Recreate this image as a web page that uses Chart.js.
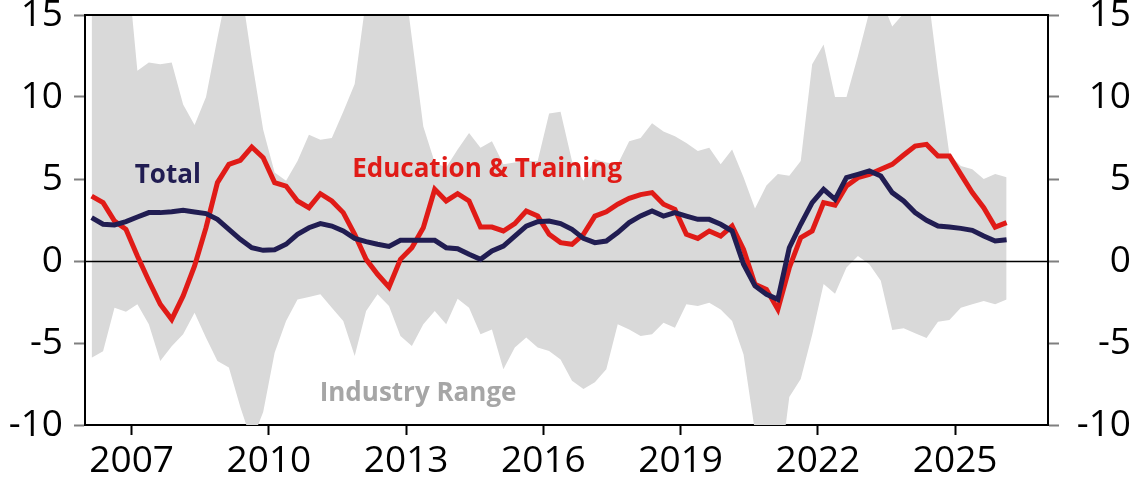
<!DOCTYPE html>
<html lang="en">
<head>
<meta charset="UTF-8">
<title>Employment growth: Education &amp; Training vs Total</title>
<style>
  html, body { margin: 0; padding: 0; background: #fff; }
</style>
</head>
<body>
<canvas id="chart" width="1137" height="484"></canvas>

<script src="https://cdn.jsdelivr.net/npm/chart.js"></script>
<script>
  // quarterly series, 2006 Q1 .. 2026 Q1 (annual % change)
  const firstYear = 2006;
  const totalGrowth = [2.64, 2.24, 2.2, 2.4, 2.68, 2.95, 2.95, 3.0, 3.09, 2.99, 2.89, 2.54, 1.93, 1.32, 0.81, 0.65,
    0.68, 1.02, 1.63, 2.03, 2.28, 2.13, 1.83, 1.38, 1.18, 1.02, 0.89, 1.26, 1.26, 1.26, 1.26, 0.81,
    0.75, 0.41, 0.1, 0.61, 0.91, 1.52, 2.13, 2.4, 2.44, 2.28, 1.93, 1.38, 1.12, 1.22, 1.73, 2.34,
    2.75, 3.05, 2.74, 2.95, 2.74, 2.54, 2.54, 2.24, 1.83, -0.2, -1.52, -2.03, -2.34, 0.81, 2.24, 3.56,
    4.37, 3.76, 5.08, 5.28, 5.49, 5.18, 4.17, 3.66, 2.95, 2.48, 2.13, 2.07, 1.99, 1.87, 1.52, 1.22, 1.3];
  const eduGrowth = [3.96, 3.56, 2.44, 1.93, 0.3, -1.2, -2.64, -3.56, -2.13, -0.3, 2.03, 4.78, 5.89, 6.14, 6.95, 6.3,
    4.78, 4.57, 3.66, 3.25, 4.1, 3.66, 2.95, 1.63, 0.1, -0.81, -1.59, 0.1, 0.81, 2.03, 4.37, 3.66,
    4.1, 3.66, 2.07, 2.07, 1.83, 2.28, 3.05, 2.74, 1.63, 1.12, 1.02, 1.63, 2.74, 3.0, 3.46, 3.82,
    4.05, 4.17, 3.46, 3.15, 1.63, 1.38, 1.83, 1.52, 2.13, 0.71, -1.42, -1.73, -2.95, -0.41, 1.42, 1.83,
    3.56, 3.41, 4.57, 5.08, 5.28, 5.59, 5.89, 6.46, 7.01, 7.11, 6.4, 6.4, 5.28, 4.17, 3.25, 2.07, 2.34];
  const rangeHigh = [17, 18, 18, 19, 11.6, 12.1, 12.0, 12.1, 9.55, 8.3, 10.0, 13.6, 17, 17, 12.3, 8.0,
    5.4, 4.9, 6.1, 7.7, 7.4, 7.5, 9.1, 10.8, 16, 18, 19, 19, 13.6, 8.2, 6.0, 5.7,
    6.8, 7.8, 6.9, 7.3, 5.9, 6.0, 6.1, 6.1, 9.0, 9.1, 6.1, 4.9, 6.2, 6.0, 5.9, 7.3,
    7.5, 8.4, 7.9, 7.6, 7.2, 6.7, 6.9, 5.9, 6.8, 5.1, 3.2, 4.6, 5.3, 5.2, 6.1, 12.0,
    13.2, 10.0, 10.0, 12.5, 15.2, 16, 14.3, 15.1, 17, 17, 11.5, 6.5, 5.8, 5.6, 5.0, 5.3, 5.1];
  const rangeLow = [-5.9, -5.5, -2.85, -3.1, -2.64, -3.86, -6.1, -5.2, -4.47, -3.15, -4.68, -6.1, -6.5, -8.9, -11, -9.2,
    -5.6, -3.66, -2.34, -2.2, -2.03, -2.85, -3.66, -5.8, -3.05, -2.03, -2.74, -4.57, -5.18, -3.86, -3.05, -3.86,
    -2.3, -2.85, -4.47, -4.17, -6.6, -5.28, -4.67, -5.28, -5.49, -6.0, -7.3, -7.8, -7.4, -6.6, -3.86, -4.17,
    -4.57, -4.47, -3.76, -4.07, -2.64, -2.74, -2.54, -2.95, -3.66, -5.7, -10.4, -13, -13.8, -8.3, -7.2, -4.5,
    -1.4, -2.0, -0.4, 0.3, -0.2, -1.2, -4.2, -4.1, -4.4, -4.7, -3.7, -3.6, -2.85, -2.64, -2.44, -2.64, -2.34];
  const tickYears = [2007, 2010, 2013, 2016, 2019, 2022, 2025];
  const yTicks = [-10, -5, 0, 5, 10, 15];

  // each point sits in the middle of its quarter
  const quarterPos = totalGrowth.map((_, i) => firstYear + Math.floor(i / 4) + ((i % 4) + 0.5) / 4);
  const pts = arr => arr.map((v, i) => ({ x: quarterPos[i], y: v }));

  const NAVY = '#211d52';
  const RED = '#e01b17';
  const BAND = '#d9d9d9';
  const FONT = "'Open Sans', sans-serif";

  const notes = [
    { text: 'Total', x: 2007.79, y: 5.2, color: NAVY },
    { text: 'Education & Training', x: 2014.77, y: 5.6, color: RED },
    { text: 'Industry Range', x: 2013.26, y: -8.1, color: '#a6a6a6' }
  ];

  const overlay = {
    id: 'overlay',
    afterDatasetDraw(chart, args) {
      // zero line sits on the band but under the two series
      if (args.index !== 2) return;
      const { ctx, chartArea } = chart;
      const y0 = Math.round(chart.scales.y.getPixelForValue(0)) + 0.5;
      ctx.save();
      ctx.strokeStyle = '#000';
      ctx.lineWidth = 1.5;
      ctx.beginPath();
      ctx.moveTo(chartArea.left, y0);
      ctx.lineTo(chartArea.right, y0);
      ctx.stroke();
      ctx.restore();
    },
    afterDraw(chart) {
      const { ctx, chartArea } = chart;
      ctx.save();
      ctx.strokeStyle = '#000';
      ctx.lineWidth = 2;
      ctx.beginPath();
      ctx.moveTo(chartArea.left, chartArea.top);
      ctx.lineTo(chartArea.right, chartArea.top);
      ctx.stroke();

      ctx.font = `bold 26px ${FONT}`;
      ctx.textAlign = 'center';
      ctx.textBaseline = 'middle';
      notes.forEach(n => {
        ctx.fillStyle = n.color;
        ctx.fillText(n.text, chart.scales.x.getPixelForValue(n.x), chart.scales.y.getPixelForValue(n.y));
      });
      ctx.restore();
    }
  };

  const yAxis = (position) => ({
    type: 'linear',
    position: position,
    min: -10,
    max: 15,
    afterBuildTicks: s => { s.ticks = yTicks.map(v => ({ value: v })); },
    afterFit: s => {
      s.width = position === 'left' ? 85 : 83;
      // labels may hang over the plot edges; keep the plot box fixed
      s.paddingTop = 0;
      s.paddingBottom = 0;
    },
    grid: { drawOnChartArea: false, tickLength: 11, tickColor: '#7f7f7f', tickWidth: 2 },
    border: { color: '#000', width: 2 },
    ticks: {
      color: '#000',
      padding: 11,
      crossAlign: position === 'left' ? 'near' : 'far',
      font: { family: FONT, size: 37 },
      callback: v => String(v)
    }
  });

  new Chart(document.getElementById('chart'), {
    type: 'line',
    data: {
      datasets: [
        { label: 'Total', data: pts(totalGrowth), borderColor: NAVY, borderWidth: 5, pointRadius: 0, tension: 0, fill: false },
        { label: 'Education & Training', data: pts(eduGrowth), borderColor: RED, borderWidth: 5, pointRadius: 0, tension: 0, fill: false },
        { label: 'Industry Range', data: pts(rangeHigh), borderWidth: 0, pointRadius: 0, tension: 0, backgroundColor: BAND, fill: '+1' },
        { label: 'range low', data: pts(rangeLow), borderWidth: 0, pointRadius: 0, tension: 0, fill: false }
      ]
    },
    options: {
      responsive: false,
      animation: false,
      layout: { padding: { top: 15, right: 6 } },
      plugins: { legend: { display: false }, tooltip: { enabled: false } },
      scales: {
        x: {
          type: 'linear',
          min: 2005.98,
          max: 2027.03,
          afterBuildTicks: s => { s.ticks = tickYears.map(v => ({ value: v })); },
          afterFit: s => { s.height = 59; },
          grid: { drawOnChartArea: false, tickLength: 10, tickColor: '#000', tickWidth: 2 },
          border: { color: '#000', width: 2 },
          ticks: {
            color: '#000',
            padding: 4,
            maxRotation: 0,
            autoSkip: false,
            font: { family: FONT, size: 37 },
            callback: v => String(v)
          }
        },
        y: yAxis('left'),
        y2: yAxis('right')
      }
    },
    plugins: [overlay]
  });
</script>
</body>
</html>
